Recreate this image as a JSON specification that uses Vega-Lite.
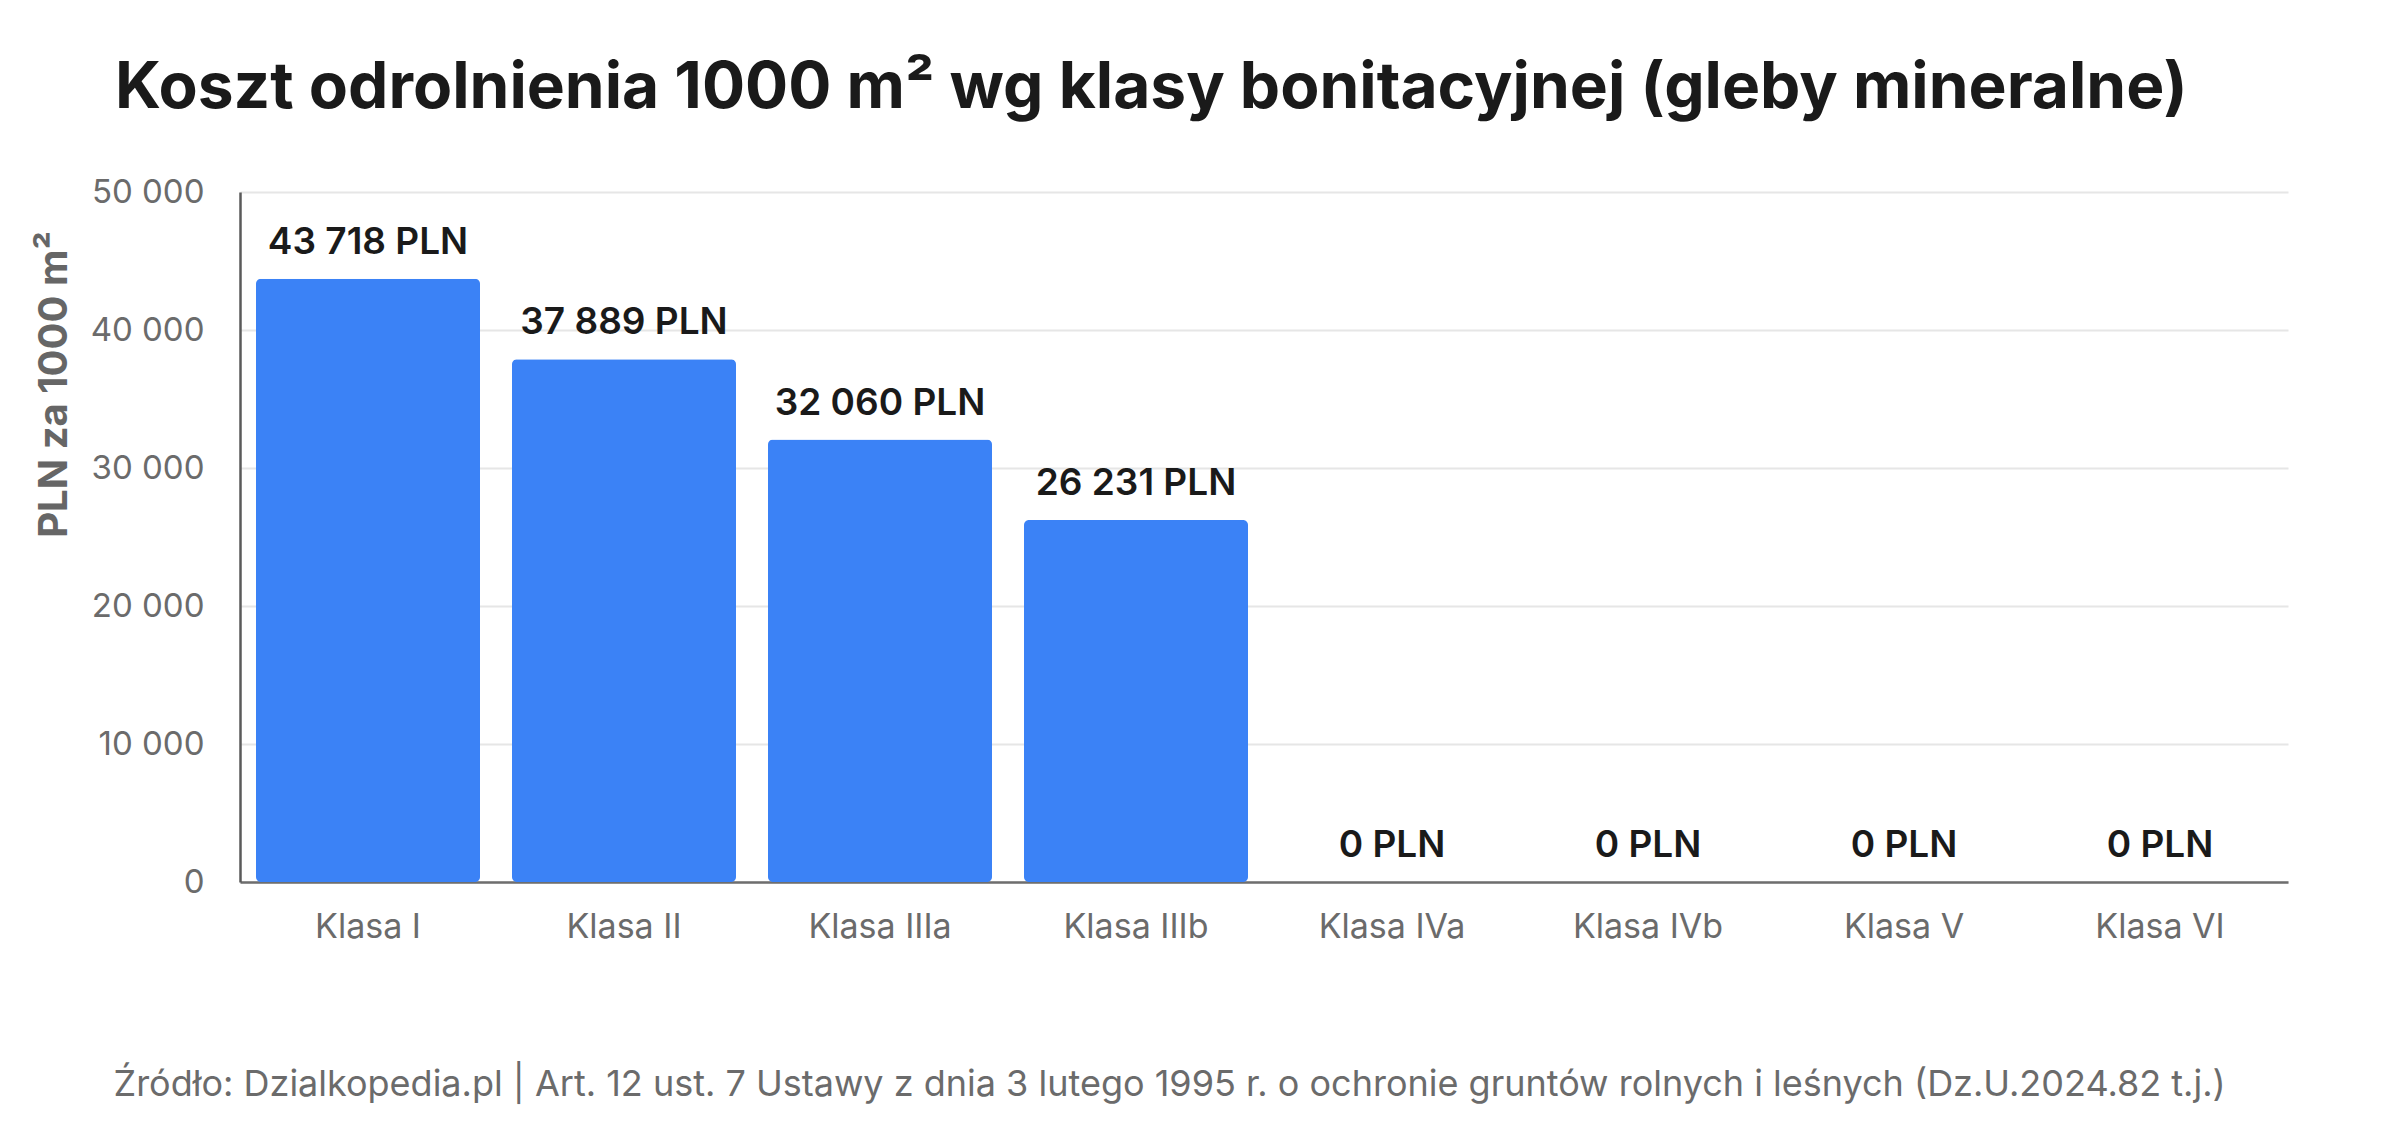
{
  "$schema": "https://vega.github.io/schema/vega-lite/v6.json",
  "width": 2048,
  "height": 690,
  "autosize": "none",
  "padding": {"left": 240, "top": 192, "right": 112, "bottom": 258},
  "background": "#ffffff",
  "title": {
    "text": "Koszt odrolnienia 1000 m² wg klasy bonitacyjnej (gleby mineralne)",
    "anchor": "start",
    "frame": "group",
    "baseline": "alphabetic",
    "offset": 4,
    "dx": -125,
    "font": "Inter",
    "fontSize": 64,
    "fontWeight": 700,
    "color": "#1a1a1a"
  },
  "config": {
    "view": {"stroke": null},
    "locale": {
      "number": {
        "decimal": ",",
        "thousands": " ",
        "grouping": [3],
        "currency": ["", " PLN"]
      }
    },
    "axis": {"labelFont": "Inter", "titleFont": "Inter"}
  },
  "data": {
    "values": [
      {"klasa": "Klasa I", "koszt": 43718},
      {"klasa": "Klasa II", "koszt": 37889},
      {"klasa": "Klasa IIIa", "koszt": 32060},
      {"klasa": "Klasa IIIb", "koszt": 26231},
      {"klasa": "Klasa IVa", "koszt": 0},
      {"klasa": "Klasa IVb", "koszt": 0},
      {"klasa": "Klasa V", "koszt": 0},
      {"klasa": "Klasa VI", "koszt": 0}
    ]
  },
  "encoding": {
    "x": {
      "field": "klasa",
      "type": "nominal",
      "sort": null,
      "scale": {"paddingInner": 0.125, "paddingOuter": 0.0625},
      "axis": {
        "title": "Źródło: Dzialkopedia.pl | Art. 12 ust. 7 Ustawy z dnia 3 lutego 1995 r. o ochronie gruntów rolnych i leśnych (Dz.U.2024.82 t.j.)",
        "titleAnchor": "start",
        "titleAlign": "left",
        "titleBaseline": "alphabetic",
        "titleX": -127,
        "titleY": 213,
        "titleFontSize": 36,
        "titleFontWeight": 400,
        "titleColor": "#6b6b6b",
        "labelAngle": 0,
        "labelFontSize": 34,
        "labelColor": "#6b6b6b",
        "labelPadding": 28,
        "ticks": false,
        "domainColor": "#6e6e6e",
        "domainWidth": 2.5
      }
    },
    "y": {
      "field": "koszt",
      "type": "quantitative",
      "scale": {"domain": [0, 50000]},
      "axis": {
        "values": [0, 10000, 20000, 30000, 40000, 50000],
        "format": ",.0f",
        "title": "PLN za 1000 m²",
        "titleFontSize": 40,
        "titleFontWeight": 700,
        "titleColor": "#666666",
        "titleAngle": 270,
        "titleAlign": "center",
        "titleBaseline": "middle",
        "titleX": -186,
        "titleY": 192,
        "labelFontSize": 33,
        "labelColor": "#6b6b6b",
        "labelPadding": 36,
        "ticks": false,
        "domainColor": "#5a5a5a",
        "domainWidth": 2.5,
        "gridColor": "#e6e6e6",
        "gridWidth": 2
      }
    }
  },
  "layer": [
    {
      "mark": {"type": "bar", "color": "#3b82f6", "cornerRadius": 5}
    },
    {
      "mark": {
        "type": "text",
        "baseline": "alphabetic",
        "dy": -25,
        "font": "Inter",
        "fontSize": 37,
        "fontWeight": 600,
        "color": "#1a1a1a"
      },
      "encoding": {
        "text": {"field": "koszt", "type": "quantitative", "format": "$,.0f"}
      }
    }
  ]
}
